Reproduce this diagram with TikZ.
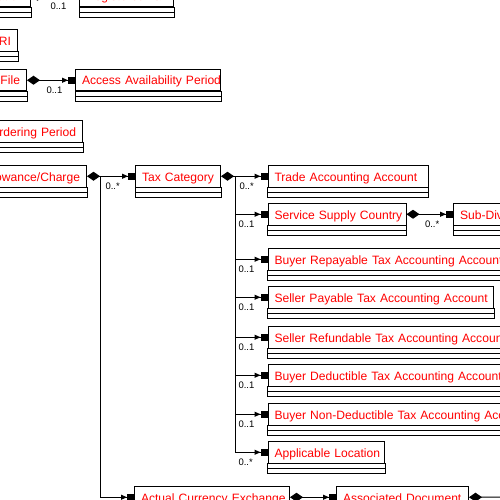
\documentclass[tikz,border=0pt]{standalone}
\usepackage{fontspec}
\setmainfont{Liberation Sans}
\usetikzlibrary{arrows.meta}

\newcommand{\clsfont}{\fontsize{12.1}{14}\selectfont}
\newcommand{\multfont}{\fontsize{9.5}{10}\selectfont}

\tikzset{
    cls/.style={draw, line width=1pt, anchor=north west, minimum height=21.5pt,
        inner xsep=6.5pt, inner ysep=0pt, text=red, font=\clsfont, align=left,
        text height=10.5pt, text depth=1pt,
        execute at begin node={\leavevmode\hbox\bgroup}, execute at end node={\egroup}},
    clsr/.style={cls, anchor=north east, align=right},
    comp/.style={line width=1pt, {Diamond[length=13pt,width=9pt]}-{Triangle[length=6pt,width=5pt,sep=0pt]Rectangle[length=7pt,width=7pt]}},
    compend/.style={line width=1pt, {Diamond[length=13pt,width=9pt]}-},
    arr/.style={line width=1pt, -{Triangle[length=6pt,width=5pt,sep=0pt]Rectangle[length=7pt,width=7pt]}},
    bus/.style={line width=1pt},
    mult/.style={font=\multfont, anchor=west, inner sep=0pt, yshift=-10pt}
}

\begin{document}
\begin{tikzpicture}[x=1pt, y=-1pt]
    \useasboundingbox (0,0) rectangle (500,500);
    \clip (0,0) rectangle (500,500);

    % Top rows, cut at the left edge
    \node[clsr, text width=120pt] (taxreg) at (31,-15) {Tax Registration};
    \node[cls, text width=81pt] (regtax) at (79,-15) {Registered Tax};
    \node[clsr, text width=60pt] (uri) at (18,29.5) {URI};
    \node[clsr, text width=90pt] (binfile) at (27,69) {Binary File};
    \node[cls, text width=132pt] (access) at (75,69) {Access Availability Period};
    \node[clsr, text width=110pt] (ordering) at (83,120) {Ordering Period};

    % Allowance and tax category
    \node[clsr, text width=120pt] (allowance) at (87,165) {Allowance/Charge};
    \node[cls, text width=72pt] (taxcat) at (135,165) {Tax Category};

    % Tax category parts
    \node[cls, text width=147pt] (trade) at (267.5,165) {Trade Accounting Account};
    \node[cls, text width=125pt] (service) at (267.5,203) {Service Supply Country};
    \node[cls, text width=120pt] (subdiv) at (453,203) {Sub-Division};
    \node[cls, text width=260pt] (buyrep) at (267.5,248) {Buyer Repayable Tax Accounting Account};
    \node[cls, text width=212.5pt] (selpay) at (267.5,286) {Seller Payable Tax Accounting Account};
    \node[cls, text width=260pt] (selref) at (267.5,326) {Seller Refundable Tax Accounting Account};
    \node[cls, text width=260pt] (buyded) at (267.5,364) {Buyer Deductible Tax Accounting Account};
    \node[cls, text width=280pt] (buynonded) at (267.5,403) {Buyer Non-Deductible Tax Accounting Account};
    \node[cls, text width=103.5pt] (location) at (267.5,441) {Applicable Location};

    % Bottom row
    \node[cls, text width=142pt] (currency) at (134,486) {Actual Currency Exchange};
    \node[cls, text width=119pt] (assocdoc) at (336,486) {Associated Document};

    % Attribute and operation compartments
    \foreach \n in {taxreg,regtax,uri,binfile,access,ordering,allowance,taxcat,trade,service,subdiv,buyrep,selpay,selref,buyded,buynonded,location,currency,assocdoc}
        \draw[line width=1pt] (\n.south west) rectangle ([yshift=-10pt]\n.south east)
            ([yshift=-5pt]\n.south west) -- ([yshift=-5pt]\n.south east);

    % Connectors
    \draw[comp] (taxreg.east) -- node[mult, at start, xshift=19pt] (m-regtax) {0..1} (regtax.west);
    \draw[comp] (binfile.east) -- node[mult, at start, xshift=19pt] (m-access) {0..1} (access.west);
    \draw[comp] (allowance.east) -- node[mult, at start, xshift=18pt] (m-taxcat) {0..*} (taxcat.west);
    \draw[comp] (taxcat.east) -- node[mult, at start, xshift=18pt] (m-trade) {0..*} (trade.west);
    \draw[comp] (service.east) -- node[mult, at start, xshift=18pt] (m-subdiv) {0..*} (subdiv.west);
    \draw[comp] (currency.east) -- (assocdoc.west);
    \coordinate (docout) at (520,497);
    \draw[compend] (assocdoc.east) -- (docout);

    % Tax category bus
    \coordinate (tcbus) at ([xshift=14pt]taxcat.east);
    \draw[bus] (tcbus) -- (tcbus |- location.west);
    \foreach \n/\m in {service/0..1, buyrep/0..1, selpay/0..1, selref/0..1, buyded/0..1, buynonded/0..1, location/0..*}
        \draw[arr] (tcbus |- \n.west) -- node[mult, at start, xshift=3pt] (m-\n) {\m} (\n.west);

    % Allowance bus
    \coordinate (acbus) at ([xshift=13pt]allowance.east);
    \draw[bus] (acbus) -- (acbus |- currency.west);
    \draw[arr] (acbus |- currency.west) -- (currency.west);
\end{tikzpicture}
\end{document}
